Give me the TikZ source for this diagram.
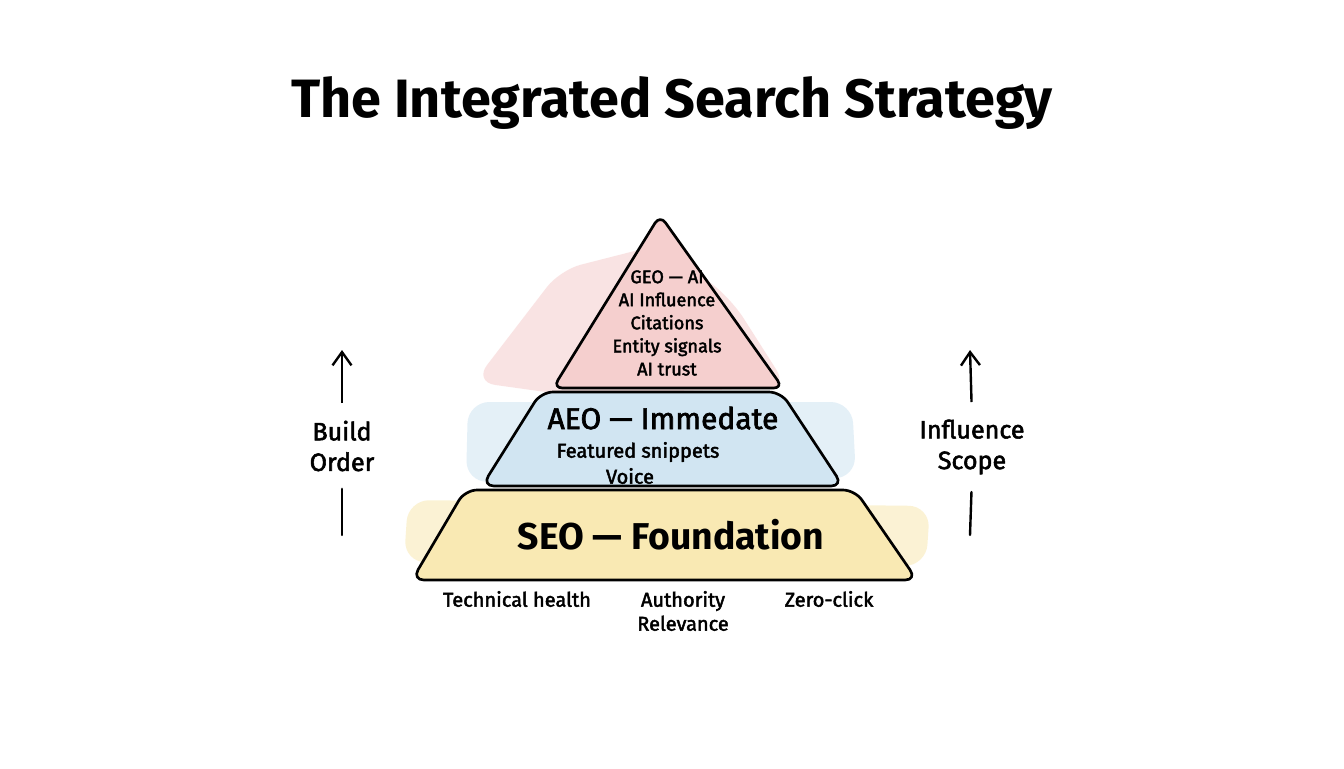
\documentclass[tikz,border=0pt]{standalone}
\usepackage{fontspec}
\setmainfont{Fira Sans}
\newfontfamily\medfont{Fira Sans}[UprightFeatures={FakeBold=2.2}]
\usetikzlibrary{arrows.meta,positioning}
\definecolor{geopink}{HTML}{F3C3C2}
\definecolor{aeoblue}{HTML}{C5DEEF}
\definecolor{seoyellow}{HTML}{F8E4A0}
\begin{document}
\begin{tikzpicture}[x=0.75pt,y=-0.75pt,
  every node/.style={align=center,inner sep=1pt},
  layer/.style={draw=black,line width=2pt,rounded corners=9pt,line join=round},
  wash/.style={opacity=.45,rounded corners=16pt},
  item/.style={font=\medfont\fontsize{13.6}{17.3}\selectfont},
  small/.style={font=\medfont\fontsize{15}{18}\selectfont},
  side/.style={font=\medfont\fontsize{18.8}{23}\selectfont},
  arr/.style={-{Straight Barb[length=3.5mm,width=5mm]},line width=1.8pt}
]
\useasboundingbox[fill=white] (0,0) rectangle (1344,768);

% title
\node[font=\bfseries\fontsize{40.5}{46}\selectfont] (title) at (672,103) {The Integrated Search Strategy};

% colour washes
\fill[geopink,wash] (474,382) -- (560,270) -- (662,244) -- (732,300) -- (788,388) -- (560,394) -- cycle;
\fill[aeoblue,wash] (468,402) -- (852,402) -- (856,478) -- (466,482) -- cycle;
\fill[seoyellow,wash] (408,500) -- (930,506) -- (926,566) -- (404,562) -- cycle;

% pyramid layers
\path[layer,fill=seoyellow!80] (465,490) -- (855,490) -- (917,580) -- (412,580) -- cycle;
\path[layer,fill=aeoblue!80] (541,392) -- (781,392) -- (843,486) -- (482,486) -- cycle;
\path[layer,fill=geopink!80,rounded corners=7pt] (660,215) -- (783,388) -- (553,388) -- cycle;

% layer texts
\node[item] (geo) at (667,323) {GEO — AI\\AI Influence\\Citations\\Entity signals\\AI trust};
\node[font=\medfont\fontsize{22.5}{26}\selectfont] (aeo) at (663,418) {AEO — Immedate};
\node[small] (snippets) at (638,452) {Featured snippets};
\node[small] (voice) at (630,476) {Voice};
\node[font=\bfseries\fontsize{28}{32}\selectfont] (seo) at (671,535) {SEO — Foundation};

% labels under the base
\node[small] (technical) at (517,599) {Technical health};
\node[small] (authority) at (683,611) {Authority\\Relevance};
\node[small] (zeroclick) at (829,599) {Zero-click};

% side arrows
\node[side] (build) at (342,446) {Build\\Order};
\node[side] (scope) at (972,447) {Influence\\Scope};
\coordinate (buildtop) at (342,350);
\coordinate (buildbot) at (342,535);
\coordinate (scopetop) at (970,350);
\coordinate (scopebot) at (970,535);
\draw[arr,shorten <=12pt] (build.north) -- (buildtop);
\draw[line width=1.8pt,shorten <=12pt,line cap=round] (build.south) -- (buildbot);
\draw[arr,shorten <=12pt] (scope.north) -- (scopetop);
\draw[line width=1.8pt,shorten <=12pt,line cap=round] (scope.south) -- (scopebot);
\end{tikzpicture}
\end{document}
